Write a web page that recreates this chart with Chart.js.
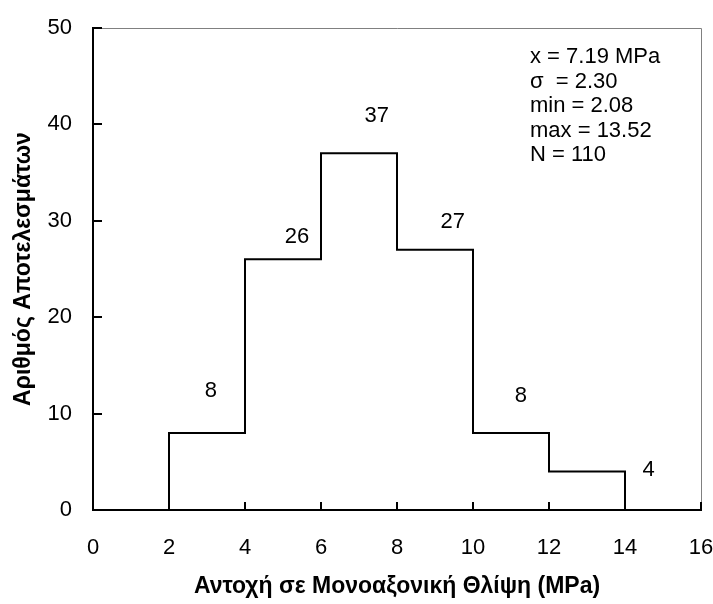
<!DOCTYPE html>
<html>
<head>
<meta charset="utf-8">
<script src="https://cdn.jsdelivr.net/npm/chart.js@4"></script>
<style>
  html, body { margin: 0; padding: 0; background: #fff; overflow: hidden; }
  #wrap { position: relative; width: 713px; height: 604px; }
  #wrap canvas { display: block; }
</style>
</head>
<body>
<div id="wrap"><canvas id="chart1"></canvas></div>
<script>
// bins of the histogram (MPa) and counts
var binEdges = [2, 4, 6, 8, 10, 12, 14];
var counts = [8, 26, 37, 27, 8, 4];
var xTicks = [0, 2, 4, 6, 8, 10, 12, 14, 16];
var yTicks = [0, 10, 20, 30, 40, 50];
var statLines = ['x = 7.19 MPa', 'σ  = 2.30', 'min = 2.08', 'max = 13.52', 'N = 110'];
var xTitle = 'Αντοχή σε Μονοαξονική Θλίψη (MPa)';
var yTitle = 'Αριθμός Αποτελεσμάτων';

// step outline built from the bins
var steps = [{x: binEdges[0], y: 0}];
counts.forEach(function(c, i) {
  steps.push({x: binEdges[i], y: c});
  steps.push({x: binEdges[i + 1], y: c});
});
steps.push({x: binEdges[binEdges.length - 1], y: 0});

var FONT = '"Liberation Sans", Arial, sans-serif';

// where each count label sits (data units), as placed in the original
var countLabelAt = [[3.1, 12.3], [5.37, 28.3], [7.47, 40.9], [9.47, 29.9], [11.26, 11.8], [14.62, 4.15]];

const decor = {
  id: 'decor',
  afterDraw: function(chart) {
    var ctx = chart.ctx, a = chart.chartArea;
    var xs = chart.scales.x, ys = chart.scales.y;
    ctx.save();
    // top and right frame
    ctx.strokeStyle = '#808080';
    ctx.lineWidth = 1;
    ctx.beginPath();
    ctx.moveTo(a.left, a.top + 0.5);
    ctx.lineTo(a.right + 0.5, a.top + 0.5);
    ctx.lineTo(a.right + 0.5, a.bottom);
    ctx.stroke();
    // inward ticks
    ctx.strokeStyle = '#000';
    ctx.lineWidth = 2;
    ctx.beginPath();
    yTicks.forEach(function(v) {
      var y = Math.round(ys.getPixelForValue(v));
      ctx.moveTo(a.left, y);
      ctx.lineTo(a.left + 9, y);
    });
    xTicks.forEach(function(v) {
      var x = Math.round(xs.getPixelForValue(v));
      ctx.moveTo(x, a.bottom);
      ctx.lineTo(x, a.bottom - 8);
    });
    ctx.stroke();
    // count labels
    ctx.fillStyle = '#000';
    ctx.font = '22px ' + FONT;
    ctx.textAlign = 'center';
    ctx.textBaseline = 'middle';
    counts.forEach(function(c, i) {
      var p = countLabelAt[i];
      ctx.fillText(String(c), xs.getPixelForValue(p[0]), ys.getPixelForValue(p[1]));
    });
    // stats box
    ctx.textAlign = 'left';
    statLines.forEach(function(t, i) {
      ctx.fillText(t, 530, 57 + i * 24.5);
    });
    ctx.restore();
  }
};

new Chart(document.getElementById('chart1').getContext('2d'), {
  type: 'scatter',
  data: {
    datasets: [{
      data: steps,
      showLine: true,
      borderColor: '#000',
      borderWidth: 2,
      pointRadius: 0,
      fill: false
    }]
  },
  options: {
    responsive: true,
    maintainAspectRatio: false,
    animation: false,
    layout: { padding: { top: 28, right: 12, left: 0, bottom: 0 } },
    plugins: {
      legend: { display: false },
      tooltip: { enabled: false }
    },
    scales: {
      x: {
        type: 'linear',
        min: 0, max: 16,
        afterBuildTicks: function(s) { s.ticks = xTicks.map(function(v) { return {value: v}; }); },
        afterFit: function(s) { s.height = 94; s.paddingLeft = 0; s.paddingRight = 0; },
        grid: { drawOnChartArea: false, drawTicks: false },
        border: { color: '#000', width: 2 },
        ticks: { color: '#000', padding: 25, font: { family: FONT, size: 22 }, maxRotation: 0 },
        title: { display: true, text: xTitle, color: '#000', padding: { bottom: 4 },
                 font: { family: FONT, size: 23, weight: 'bold' } }
      },
      y: {
        type: 'linear',
        min: 0, max: 50,
        afterBuildTicks: function(s) { s.ticks = yTicks.map(function(v) { return {value: v}; }); },
        afterFit: function(s) { s.width = 93; s.paddingTop = 0; s.paddingBottom = 0; },
        grid: { drawOnChartArea: false, drawTicks: false },
        border: { color: '#000', width: 2 },
        ticks: { color: '#000', padding: 21, font: { family: FONT, size: 22 } },
        title: { display: true, text: yTitle, color: '#000', padding: { top: 10 },
                 font: { family: FONT, size: 23, weight: 'bold' } }
      }
    }
  },
  plugins: [decor]
});
</script>
</body>
</html>
